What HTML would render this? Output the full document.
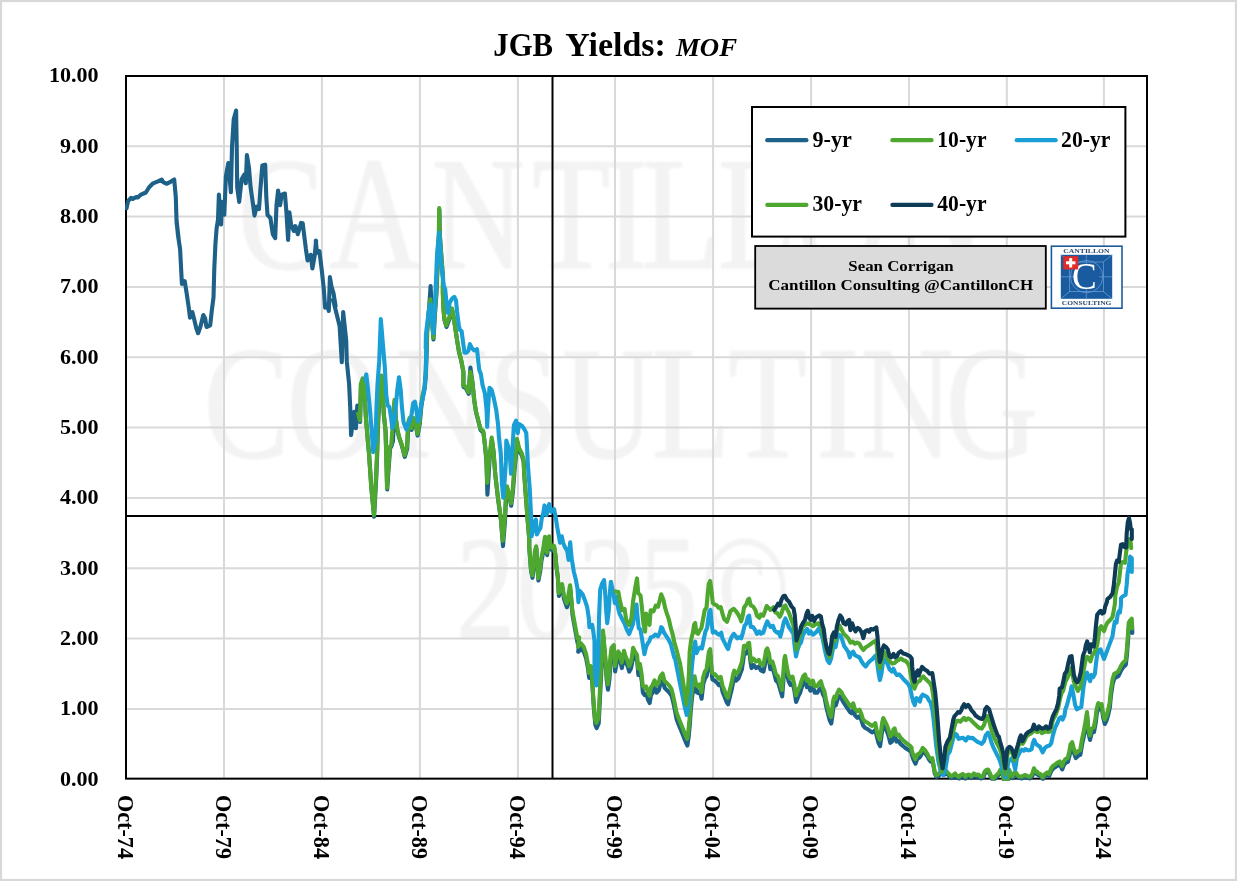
<!DOCTYPE html>
<html lang="en"><head><meta charset="utf-8"><title>JGB Yields: MOF</title>
<style>
html,body{margin:0;padding:0;background:#fff;}
body{width:1237px;height:881px;overflow:hidden;font-family:"Liberation Serif","DejaVu Serif",serif;}
svg{display:block;}
text{font-family:"Liberation Serif","DejaVu Serif",serif;}
</style></head><body>
<svg width="1237" height="881" viewBox="0 0 1237 881">
<rect x="0" y="0" width="1237" height="881" fill="#ffffff"/>
<rect x="1.05" y="1.05" width="1234.9" height="878.9" fill="none" stroke="#d8d8d8" stroke-width="2.1"/>
<text x="493.3" y="55.6" font-size="33.5" font-weight="bold" textLength="59.8" lengthAdjust="spacingAndGlyphs" fill="#000">JGB</text>
<text x="565.3" y="55.6" font-size="33.5" font-weight="bold" textLength="100.6" lengthAdjust="spacingAndGlyphs" fill="#000">Yields:</text>
<text x="676" y="55.6" font-size="25" font-weight="bold" font-style="italic" textLength="61" lengthAdjust="spacingAndGlyphs" fill="#000">MOF</text>
<defs><filter id="wb" x="-2%" y="-10%" width="104%" height="120%"><feGaussianBlur stdDeviation="1.0"/></filter></defs>
<g fill="#f3f3f3" stroke="#f0f0f0" stroke-width="0.8" filter="url(#wb)"><text transform="scale(0.8,1)" x="297.9 411.0 539.7 664.9 756.5 802.4 897.4 993.5 1116.0" y="268" font-size="160">CANTILLON</text><text transform="scale(0.8,1)" x="254.8 358.5 494.1 610.5 702.8 814.9 910.5 1020.2 1076.0 1182.2" y="457.5" font-size="160">CONSULTING</text><text transform="scale(0.8,1)" x="569.9 646.1 722.4 798.6 875.0" y="638" font-size="148">2025©</text></g>
<g stroke="#d9d9d9" stroke-width="2"><line x1="126.0" y1="708.9" x2="1147.0" y2="708.9"/><line x1="126.0" y1="638.6" x2="1147.0" y2="638.6"/><line x1="126.0" y1="568.2" x2="1147.0" y2="568.2"/><line x1="126.0" y1="497.9" x2="1147.0" y2="497.9"/><line x1="126.0" y1="427.6" x2="1147.0" y2="427.6"/><line x1="126.0" y1="357.3" x2="1147.0" y2="357.3"/><line x1="126.0" y1="287.0" x2="1147.0" y2="287.0"/><line x1="126.0" y1="216.6" x2="1147.0" y2="216.6"/><line x1="126.0" y1="146.3" x2="1147.0" y2="146.3"/><line x1="224.0" y1="76.0" x2="224.0" y2="778.65"/><line x1="321.9" y1="76.0" x2="321.9" y2="778.65"/><line x1="419.9" y1="76.0" x2="419.9" y2="778.65"/><line x1="517.9" y1="76.0" x2="517.9" y2="778.65"/><line x1="615.0" y1="76.0" x2="615.0" y2="778.65"/><line x1="713.1" y1="76.0" x2="713.1" y2="778.65"/><line x1="811.1" y1="76.0" x2="811.1" y2="778.65"/><line x1="909.0" y1="76.0" x2="909.0" y2="778.65"/><line x1="1006.8" y1="76.0" x2="1006.8" y2="778.65"/><line x1="1103.9" y1="76.0" x2="1103.9" y2="778.65"/></g>
<text x="98.6" y="785.7" font-size="21" font-weight="bold" text-anchor="end" textLength="38.6" lengthAdjust="spacingAndGlyphs" fill="#000">0.00</text>
<text x="98.6" y="715.3" font-size="21" font-weight="bold" text-anchor="end" textLength="38.6" lengthAdjust="spacingAndGlyphs" fill="#000">1.00</text>
<text x="98.6" y="645.0" font-size="21" font-weight="bold" text-anchor="end" textLength="38.6" lengthAdjust="spacingAndGlyphs" fill="#000">2.00</text>
<text x="98.6" y="574.6" font-size="21" font-weight="bold" text-anchor="end" textLength="38.6" lengthAdjust="spacingAndGlyphs" fill="#000">3.00</text>
<text x="98.6" y="504.3" font-size="21" font-weight="bold" text-anchor="end" textLength="38.6" lengthAdjust="spacingAndGlyphs" fill="#000">4.00</text>
<text x="98.6" y="433.9" font-size="21" font-weight="bold" text-anchor="end" textLength="38.6" lengthAdjust="spacingAndGlyphs" fill="#000">5.00</text>
<text x="98.6" y="363.5" font-size="21" font-weight="bold" text-anchor="end" textLength="38.6" lengthAdjust="spacingAndGlyphs" fill="#000">6.00</text>
<text x="98.6" y="293.2" font-size="21" font-weight="bold" text-anchor="end" textLength="38.6" lengthAdjust="spacingAndGlyphs" fill="#000">7.00</text>
<text x="98.6" y="222.8" font-size="21" font-weight="bold" text-anchor="end" textLength="38.6" lengthAdjust="spacingAndGlyphs" fill="#000">8.00</text>
<text x="98.6" y="152.5" font-size="21" font-weight="bold" text-anchor="end" textLength="38.6" lengthAdjust="spacingAndGlyphs" fill="#000">9.00</text>
<text x="98.6" y="82.1" font-size="21" font-weight="bold" text-anchor="end" textLength="49.6" lengthAdjust="spacingAndGlyphs" fill="#000">10.00</text>
<text transform="translate(117.8,795) rotate(90)" font-size="23" font-weight="bold" textLength="64" lengthAdjust="spacingAndGlyphs" fill="#000">Oct-74</text>
<text transform="translate(215.7,795) rotate(90)" font-size="23" font-weight="bold" textLength="64" lengthAdjust="spacingAndGlyphs" fill="#000">Oct-79</text>
<text transform="translate(313.6,795) rotate(90)" font-size="23" font-weight="bold" textLength="64" lengthAdjust="spacingAndGlyphs" fill="#000">Oct-84</text>
<text transform="translate(411.6,795) rotate(90)" font-size="23" font-weight="bold" textLength="64" lengthAdjust="spacingAndGlyphs" fill="#000">Oct-89</text>
<text transform="translate(509.6,795) rotate(90)" font-size="23" font-weight="bold" textLength="64" lengthAdjust="spacingAndGlyphs" fill="#000">Oct-94</text>
<text transform="translate(606.7,795) rotate(90)" font-size="23" font-weight="bold" textLength="64" lengthAdjust="spacingAndGlyphs" fill="#000">Oct-99</text>
<text transform="translate(704.8,795) rotate(90)" font-size="23" font-weight="bold" textLength="64" lengthAdjust="spacingAndGlyphs" fill="#000">Oct-04</text>
<text transform="translate(802.8,795) rotate(90)" font-size="23" font-weight="bold" textLength="64" lengthAdjust="spacingAndGlyphs" fill="#000">Oct-09</text>
<text transform="translate(900.7,795) rotate(90)" font-size="23" font-weight="bold" textLength="64" lengthAdjust="spacingAndGlyphs" fill="#000">Oct-14</text>
<text transform="translate(998.5,795) rotate(90)" font-size="23" font-weight="bold" textLength="64" lengthAdjust="spacingAndGlyphs" fill="#000">Oct-19</text>
<text transform="translate(1095.6,795) rotate(90)" font-size="23" font-weight="bold" textLength="64" lengthAdjust="spacingAndGlyphs" fill="#000">Oct-24</text>
<line x1="552.5" y1="76.0" x2="552.5" y2="778.65" stroke="#000" stroke-width="2"/>
<line x1="126.0" y1="516" x2="1147.0" y2="516" stroke="#000" stroke-width="2"/>
<rect x="126.0" y="76.0" width="1021.0" height="702.65" fill="none" stroke="#000" stroke-width="2"/>
<clipPath id="pc"><rect x="125.0" y="76.0" width="1023.0" height="704.65"/></clipPath>
<g id="series" clip-path="url(#pc)">
<polyline points="126.5,208.3 128.1,201.1 131.0,197.8 132.9,198.9 136.2,197.0 137.8,197.5 141.0,194.6 145.9,192.5 149.1,187.3 153.1,183.3 158.0,181.3 161.7,179.5 163.3,182.1 166.9,183.8 170.9,181.6 174.2,179.5 175.8,197.0 176.6,222.9 179.0,242.0 176.6,220.8 177.9,234.6 180.1,249.1 181.1,268.5 181.9,283.9 184.7,281.1 186.6,292.8 188.7,307.3 190.0,317.8 192.4,312.2 194.4,320.2 196.3,328.3 198.1,333.2 200.4,326.7 203.3,315.1 205.2,318.6 206.5,327.0 210.2,325.4 211.8,310.5 213.5,297.6 214.3,268.5 215.4,244.3 216.5,229.7 216.7,227.7 218.0,219.6 218.9,194.6 221.1,224.5 221.9,201.9 224.3,214.8 225.9,176.0 228.3,163.1 230.9,192.2 232.0,146.9 233.7,119.4 236.1,110.5 236.7,145.3 237.2,187.3 239.2,201.9 241.6,179.2 244.2,174.7 245.8,183.3 246.9,155.0 249.0,167.9 250.6,187.3 252.9,203.5 254.5,215.6 256.6,206.7 259.0,209.1 260.3,190.5 262.3,165.5 265.2,164.7 266.3,197.0 267.5,214.8 270.4,218.0 272.8,234.2 275.2,238.2 276.5,205.1 278.1,190.5 280.1,205.1 281.7,194.6 284.9,193.5 286.5,213.2 288.1,239.9 289.4,212.4 291.1,224.5 293.8,231.0 295.4,226.1 297.8,234.2 301.1,222.9 302.7,223.2 304.3,236.2 305.9,249.1 307.6,260.4 310.8,254.8 312.4,268.5 314.8,254.8 316.1,241.0 315.8,240.6 317.0,252.8 319.4,251.1 321.8,270.5 323.9,289.9 325.1,307.7 327.5,304.5 328.8,311.0 329.9,277.0 331.5,286.7 333.5,293.2 335.6,306.1 333.1,300.0 339.6,325.9 341.8,362.2 343.2,312.1 346.2,340.4 346.8,361.4 349.1,384.1 350.2,406.8 351.1,435.1 354.2,411.9 355.9,428.3 357.3,405.6 358.4,415.2 360.1,422.0 361.0,385.7 362.9,380.0 364.4,389.1 366.1,419.7 368.0,442.4 369.1,454.3 371.4,488.4 374.1,516.7 376.3,477.0 377.2,454.3 377.9,428.8 379.4,397.0 380.5,383.4 381.7,377.1 382.8,391.3 383.9,415.2 385.6,431.1 386.3,454.3 387.2,489.5 388.4,471.3 390.1,448.6 391.5,445.8 393.0,440.9 394.7,401.5 396.0,419.7 397.5,431.1 399.2,437.9 402.1,446.4 404.7,456.8 407.2,448.6 408.3,424.2 409.7,419.7 411.5,429.9 414.0,419.7 415.7,424.2 417.6,435.6 419.7,424.2 421.4,406.1 422.8,397.0 424.8,387.9 425.9,374.3 426.7,351.6 426.7,351.6 427.2,332.7 428.9,310.9 430.6,286.1 432.0,316.8 433.5,339.5 434.9,315.7 436.5,293.0 438.2,253.4 439.0,234.1 439.4,209.7 439.8,234.1 442.0,264.7 443.1,278.3 442.9,293.0 443.6,310.0 444.5,320.2 446.5,327.0 449.4,319.1 452.2,310.0 453.9,319.1 455.6,330.4 457.3,341.8 459.0,352.0 461.3,361.1 463.5,372.4 463.5,387.0 465.8,388.2 468.7,393.8 470.4,367.6 472.6,383.6 474.3,400.7 476.0,412.0 478.3,421.1 480.6,430.2 483.4,432.6 485.1,446.3 486.5,462.2 487.4,494.7 489.7,457.8 491.9,439.7 493.6,452.3 495.3,474.9 498.2,500.0 501.0,520.5 503.0,546.1 505.0,520.5 506.1,497.8 507.2,488.7 509.5,497.8 511.2,505.7 512.9,492.1 514.6,469.4 516.3,452.4 517.1,441.2 519.2,450.3 522.0,455.9 523.7,461.6 524.3,475.1 526.0,497.8 527.7,520.5 529.4,540.9 529.3,547.8 531.1,571.4 532.5,577.8 533.8,566.0 535.2,553.3 536.4,548.7 537.3,566.0 538.4,580.5 540.2,571.4 541.5,560.5 543.4,551.4 545.2,539.2 547.2,555.1 549.3,538.7 551.3,549.6 552.7,550.5 554.3,548.3 555.6,556.9 556.5,567.8 557.9,578.0 558.9,595.9 560.6,591.6 562.3,587.3 564.0,598.9 566.9,607.2 568.6,599.5 570.3,589.5 571.4,602.2 572.5,614.8 574.3,625.2 576.0,634.5 577.7,643.6 579.4,642.4 578.2,651.8 581.1,648.5 583.9,651.9 586.2,658.7 587.9,667.8 589.2,678.0 591.3,671.3 592.4,684.9 593.8,707.6 595.3,724.6 596.6,728.1 598.7,723.5 599.8,702.0 600.9,679.3 602.1,656.6 603.2,635.8 605.5,662.3 606.6,679.3 608.0,689.6 609.4,679.4 610.6,662.3 611.7,653.3 614.0,650.5 615.1,671.5 616.8,662.4 618.5,656.7 620.2,660.2 621.9,668.1 624.2,656.2 625.9,662.5 627.6,665.9 629.3,671.6 631.0,668.3 632.1,662.8 633.3,653.9 635.0,657.5 637.2,661.2 638.4,675.0 640.1,670.7 641.8,681.1 642.9,692.6 644.6,695.1 646.3,694.0 648.0,699.7 649.7,703.0 650.9,695.1 652.6,692.8 654.8,687.6 656.5,692.7 658.8,690.4 660.5,683.5 662.8,680.7 664.7,688.0 667.0,690.2 669.3,692.5 671.6,695.8 673.3,702.6 675.0,710.5 676.7,719.6 678.9,725.2 681.2,730.8 683.5,736.5 685.7,742.1 687.4,745.5 688.6,737.5 689.7,726.1 690.8,710.2 692.0,697.7 693.7,686.3 694.8,682.9 696.5,692.0 698.2,693.1 699.9,690.8 701.6,698.7 703.3,684.0 705.0,678.3 706.7,676.0 707.9,666.9 709.2,657.9 710.4,655.6 711.3,669.2 712.4,679.4 714.7,680.6 717.0,682.8 718.7,685.1 720.9,683.4 722.6,691.9 724.9,697.6 726.6,702.1 728.1,704.4 730.0,696.4 731.7,689.6 733.4,680.6 734.5,677.1 736.2,680.6 738.5,678.3 740.2,673.7 741.9,669.2 743.1,661.3 744.2,652.2 746.5,653.3 748.2,649.9 749.3,649.3 750.4,661.3 751.6,668.1 753.8,665.2 756.1,668.1 759.0,666.4 760.7,670.3 763.5,671.5 765.2,663.5 766.3,656.7 767.5,655.0 769.2,660.1 770.3,669.2 772.6,668.1 774.3,673.7 776.0,680.6 778.2,682.8 780.5,690.8 782.2,696.4 783.4,680.6 784.5,665.8 785.3,662.4 787.0,673.5 788.7,681.5 790.4,684.9 792.7,683.2 794.4,690.6 796.1,701.9 798.4,696.2 800.1,692.8 801.8,687.1 803.5,682.6 805.2,680.9 806.9,687.1 808.6,686.0 810.3,690.6 813.1,687.1 814.8,692.8 817.1,692.8 819.4,689.4 821.1,687.7 822.8,694.0 824.5,697.4 826.2,706.4 827.9,713.3 829.6,720.1 831.3,723.5 832.4,715.5 833.5,706.4 834.7,703.0 835.8,705.3 837.5,699.6 839.2,696.2 841.5,698.5 843.2,701.9 845.5,705.3 847.7,708.7 850.0,712.1 851.7,713.3 853.4,709.8 855.1,715.5 857.4,717.8 859.7,716.1 861.4,720.1 863.1,725.7 865.3,728.0 867.6,729.1 869.9,730.8 872.1,732.5 873.8,731.4 875.5,729.7 876.7,736.0 878.4,742.8 880.1,746.2 881.2,738.2 882.4,729.1 883.5,724.6 885.2,728.0 886.9,731.4 888.6,736.0 890.3,742.8 892.0,741.6 893.7,736.0 894.8,734.8 896.5,741.6 898.8,741.1 900.5,743.9 902.8,745.8 905.1,747.8 907.3,749.2 909.6,750.6 911.9,752.5 911.6,754.0 913.3,759.4 915.5,763.7 917.2,758.9 919.5,757.5 921.2,755.0 922.9,751.3 925.2,753.3 927.4,756.4 929.1,759.6 930.8,761.6 932.5,760.3 933.7,766.9 934.8,773.6 936.5,776.9 938.8,775.8 940.5,773.5 942.8,774.1 944.5,774.7 946.7,773.0 949.0,775.8 951.3,778.1 953.5,776.9 955.3,775.2 957.0,777.5 959.2,778.6 961.5,776.4 963.2,775.8 965.5,778.6 967.2,776.9 969.4,776.4 971.7,778.1 974.0,775.2 976.2,776.9 978.5,776.4 980.8,778.6 983.1,778.1 984.8,773.5 986.5,771.8 988.2,771.3 989.9,774.7 991.6,778.6 993.3,780.3 995.5,778.1 997.2,776.4 999.0,774.7 1000.7,771.3 1001.8,770.7 1002.9,775.8 1004.1,782.0 1008.0,782.0 1009.2,771.3 1010.9,775.8 1012.6,778.1 1014.3,774.7 1016.0,774.1 1017.7,776.9 1019.4,778.1 1021.7,778.6 1023.4,777.5 1025.6,776.9 1027.9,778.1 1030.2,778.6 1032.4,775.8 1034.1,770.1 1035.8,773.0 1037.5,773.5 1036.1,773.5 1038.4,775.2 1040.6,775.8 1042.9,779.2 1045.2,775.8 1047.4,774.3 1049.1,776.2 1051.4,770.7 1053.1,768.6 1055.4,767.1 1057.7,765.6 1059.9,764.6 1062.2,769.4 1063.9,765.0 1065.6,762.9 1067.9,761.9 1069.6,755.3 1070.7,748.6 1072.4,746.5 1074.1,753.4 1075.8,758.1 1078.1,755.8 1080.4,754.7 1082.1,744.4 1083.8,736.5 1085.5,727.4 1087.2,716.6 1088.3,732.0 1090.0,739.9 1091.7,733.1 1094.0,732.0 1095.7,722.9 1096.8,713.8 1098.5,707.6 1100.2,709.3 1101.9,708.7 1103.1,717.2 1104.8,724.0 1106.5,720.6 1108.2,714.9 1109.9,707.0 1111.0,695.3 1112.7,684.0 1114.4,678.3 1116.7,677.1 1118.4,676.0 1120.1,672.6 1121.8,669.2 1123.5,666.9 1125.8,664.7 1126.9,655.6 1128.0,640.8 1128.9,627.2 1130.3,624.9 1132.0,623.2 1132.3,632.9" fill="none" stroke="#1d6088" stroke-width="4.1" stroke-linejoin="round" stroke-linecap="round"/>
<polyline points="358.2,413.6 359.9,420.4 360.8,384.1 362.7,378.4 364.2,387.5 365.9,418.1 367.8,440.8 368.9,452.7 371.2,486.8 373.9,515.1 376.1,475.4 377.0,452.7 377.7,427.2 379.2,395.4 380.3,381.8 381.5,375.5 382.6,389.7 383.7,413.6 385.4,429.5 386.1,452.7 387.0,487.9 388.2,469.7 389.9,447.0 391.3,444.2 392.8,423.8 394.5,399.9 395.8,418.1 397.3,429.5 399.0,436.3 401.9,444.8 404.5,455.2 407.0,447.0 408.1,422.6 409.5,418.1 411.3,428.3 413.8,418.1 415.5,422.6 417.4,434.0 419.5,422.6 421.2,404.5 422.6,395.4 424.6,386.3 425.7,372.7 426.5,350.0 426.5,350.0 427.0,331.1 428.7,311.8 430.4,299.3 431.8,319.7 433.3,337.9 434.7,314.1 436.3,291.4 438.0,251.8 438.8,232.5 439.2,208.1 439.6,232.5 441.8,263.1 442.9,276.7 442.7,291.4 443.4,308.4 444.3,318.6 446.3,325.4 449.2,317.5 452.0,308.4 453.7,317.5 455.4,328.8 457.1,340.2 458.8,350.4 461.1,359.5 463.3,370.8 463.3,385.4 465.6,386.6 468.5,392.2 470.2,371.8 472.4,382.0 474.1,399.1 475.8,410.4 478.1,419.5 480.4,428.6 483.2,430.8 484.9,444.5 486.3,458.1 487.2,482.9 489.5,455.8 491.7,437.6 493.4,450.1 495.1,472.7 498.0,497.7 500.8,518.1 502.8,540.8 504.8,518.1 505.9,495.4 507.0,486.3 509.3,495.4 511.0,503.3 512.7,489.7 514.4,467.0 516.1,450.0 516.9,438.8 519.0,447.9 521.8,453.5 523.5,459.2 524.1,472.7 525.8,495.4 527.5,518.1 529.2,538.5 529.1,545.4 530.9,569.0 532.3,575.4 533.6,563.6 535.0,550.9 536.2,546.3 537.1,563.6 538.2,578.1 540.0,569.0 541.3,558.1 543.2,549.0 545.0,536.8 547.0,552.7 549.1,536.3 551.1,547.2 552.5,548.1 554.1,545.9 555.4,554.5 556.3,565.4 557.7,575.4 558.7,593.1 560.4,588.6 562.1,584.1 563.8,595.4 566.7,603.3 568.4,595.4 570.1,585.2 571.2,597.7 572.3,610.2 574.1,620.4 575.8,629.5 577.5,638.5 579.2,637.4 578.0,646.8 580.9,643.4 583.7,646.8 586.0,653.6 587.7,662.7 589.0,672.9 591.1,666.1 592.2,679.7 593.6,702.4 595.1,719.5 596.4,722.9 598.5,718.3 599.6,696.8 600.7,674.1 601.9,651.4 603.0,630.6 605.3,657.0 606.4,674.1 607.8,684.3 609.2,674.1 610.4,657.0 611.5,647.9 613.8,645.1 614.9,666.1 616.6,657.0 618.3,651.4 620.0,654.8 621.7,662.7 624.0,650.8 625.7,657.0 627.4,660.4 629.1,666.1 630.8,662.7 631.9,657.0 633.1,647.9 634.8,651.4 637.0,654.8 638.2,668.4 639.9,663.8 641.6,674.1 642.7,685.4 644.4,687.7 646.1,686.5 647.8,692.2 649.5,695.6 650.7,687.7 652.4,685.4 654.6,680.3 656.3,685.4 658.6,683.1 660.3,676.3 662.6,673.5 664.5,680.9 666.8,683.1 669.1,685.4 671.4,688.8 673.1,695.6 674.8,703.6 676.5,712.6 678.7,718.3 681.0,724.0 683.3,729.7 685.5,735.3 687.2,738.8 688.4,730.8 689.5,719.5 690.6,703.6 691.8,691.1 693.5,679.7 694.6,676.3 696.3,685.4 698.0,686.5 699.7,684.3 701.4,692.2 703.1,677.5 704.8,671.8 706.5,669.5 707.7,660.4 709.0,651.4 710.2,649.1 711.1,662.7 712.2,672.9 714.5,674.1 716.8,676.3 718.5,678.6 720.7,676.9 722.4,685.4 724.7,691.1 726.4,695.6 727.9,697.9 729.8,689.9 731.5,683.1 733.2,674.1 734.3,670.6 736.0,674.1 738.3,671.8 740.0,667.2 741.7,662.7 742.9,654.8 744.0,645.7 746.3,646.8 748.0,643.4 749.1,642.8 750.2,654.8 751.4,661.6 753.6,658.7 755.9,661.6 758.8,659.9 760.5,663.8 763.3,665.0 765.0,657.0 766.1,650.2 767.3,648.5 769.0,653.6 770.1,662.7 772.4,661.6 774.1,667.2 775.8,674.1 778.0,676.3 780.3,684.3 782.0,689.9 783.2,674.1 784.3,659.3 785.1,655.9 786.8,667.0 788.5,675.0 790.2,678.4 792.5,676.7 794.2,684.1 795.9,695.4 798.2,689.7 799.9,686.3 801.6,680.6 803.3,676.1 805.0,674.4 806.7,680.6 808.4,679.5 810.1,684.1 812.9,680.6 814.6,686.3 816.9,686.3 819.2,682.9 820.9,681.2 822.6,687.5 824.3,690.9 826.0,699.9 827.7,706.8 829.4,713.6 831.1,717.0 832.2,709.0 833.3,699.9 834.5,696.5 835.6,698.8 837.3,693.1 839.0,689.7 841.3,692.0 843.0,695.4 845.3,698.8 847.5,702.2 849.8,705.6 851.5,706.8 853.2,703.3 854.9,709.0 857.2,711.3 859.5,709.6 861.2,713.6 862.9,719.2 865.1,721.5 867.4,722.6 869.7,724.3 871.9,726.0 873.6,724.9 875.3,723.2 876.5,729.5 878.2,736.3 879.9,739.7 881.0,731.7 882.2,722.6 883.3,718.1 885.0,721.5 886.7,724.9 888.4,729.5 890.1,736.3 891.8,735.1 893.5,729.5 894.6,728.3 896.3,735.1 898.6,734.6 900.3,737.4 902.6,739.7 904.9,741.9 907.1,743.6 909.4,745.3 911.7,747.6 911.4,749.0 913.1,754.7 915.3,759.2 917.0,754.7 919.3,753.6 921.0,751.3 922.7,747.9 925.0,750.2 927.2,753.6 928.9,757.0 930.6,759.2 932.3,758.1 933.5,764.9 934.6,771.7 936.3,775.1 938.6,774.0 940.3,771.7 942.6,772.3 944.3,772.9 946.5,771.2 948.8,774.0 951.1,776.3 953.3,775.1 955.1,773.4 956.8,775.7 959.0,776.8 961.3,774.6 963.0,774.0 965.3,776.8 967.0,775.1 969.2,774.6 971.5,776.3 973.8,773.4 976.0,775.1 978.3,774.6 980.6,776.8 982.9,776.3 984.6,771.7 986.3,770.0 988.0,769.5 989.7,772.9 991.4,776.8 993.1,778.5 995.3,776.3 997.0,774.6 998.8,772.9 1000.5,769.5 1001.6,768.9 1002.7,774.0 1003.9,780.2 1007.8,780.2 1009.0,769.5 1010.7,774.0 1012.4,776.3 1014.1,772.9 1015.8,772.3 1017.5,775.1 1019.2,776.3 1021.5,776.8 1023.2,775.7 1025.4,775.1 1027.7,776.3 1030.0,776.8 1032.2,774.0 1033.9,768.3 1035.6,771.2 1037.3,771.7 1035.9,771.7 1038.2,773.4 1040.4,774.0 1042.7,777.4 1045.0,774.0 1047.2,772.3 1048.9,774.0 1051.2,768.3 1052.9,766.0 1055.2,764.3 1057.5,762.6 1059.7,761.5 1062.0,766.0 1063.7,761.5 1065.4,759.2 1067.7,758.1 1069.4,751.3 1070.5,744.5 1072.2,742.2 1073.9,749.0 1075.6,753.6 1077.9,751.3 1080.2,750.2 1081.9,739.9 1083.6,732.0 1085.3,722.9 1087.0,712.1 1088.1,727.5 1089.8,735.4 1091.5,728.6 1093.8,727.5 1095.5,718.4 1096.6,709.3 1098.3,703.1 1100.0,704.8 1101.7,704.2 1102.9,712.7 1104.6,719.5 1106.3,716.1 1108.0,710.4 1109.7,702.5 1110.8,690.8 1112.5,679.5 1114.2,673.8 1116.5,672.6 1118.2,671.5 1119.9,668.1 1121.6,664.7 1123.3,662.4 1125.6,660.2 1126.7,651.1 1127.8,636.3 1128.7,622.7 1130.1,620.4 1131.8,618.7 1132.1,628.4" fill="none" stroke="#4ea72e" stroke-width="4.1" stroke-linejoin="round" stroke-linecap="round"/>
<polyline points="365.2,379.5 366.3,374.4 367.8,387.5 369.7,406.8 371.6,429.5 373.1,452.1 375.4,440.8 376.5,406.8 377.5,384.1 379.2,361.4 380.8,319.1 384.8,367.0 386.3,395.4 387.7,405.6 389.4,406.8 391.1,418.1 392.4,428.3 394.5,420.4 395.6,409.0 397.3,389.7 399.0,377.2 400.7,389.7 401.9,406.8 403.6,422.6 406.4,429.5 408.1,424.9 410.4,419.2 411.7,413.6 413.2,403.3 414.9,401.6 416.3,409.0 417.8,421.5 419.5,417.0 421.2,404.5 422.9,397.7 424.6,387.5 425.7,372.7 426.3,350.0 425.7,348.1 425.9,334.5 427.3,323.1 428.7,311.8 430.4,304.4 431.8,317.5 433.3,333.3 434.4,314.1 435.5,291.4 437.2,251.8 439.2,232.5 441.0,263.1 443.8,285.8 445.2,289.1 446.5,302.7 448.0,312.9 449.7,302.7 452.0,298.7 454.3,297.0 456.0,300.4 457.1,311.8 458.8,325.4 459.9,329.9 461.6,331.1 462.8,340.2 464.5,352.6 466.8,352.6 468.5,350.4 469.9,344.1 471.9,348.1 474.1,350.4 477.0,349.2 478.1,359.5 479.2,369.7 480.9,374.2 482.6,385.4 484.9,393.4 486.6,410.4 487.2,426.9 488.3,404.7 489.5,387.7 491.7,390.0 494.0,399.1 496.3,410.4 498.0,424.0 499.1,438.8 500.8,453.5 501.9,484.1 503.3,497.7 504.8,478.4 505.9,461.4 506.3,440.5 508.2,446.7 509.9,455.8 511.0,473.8 512.7,444.5 513.9,425.2 516.1,420.6 517.8,433.1 519.0,424.0 522.4,426.3 524.6,429.7 526.3,433.1 526.9,444.5 528.0,467.0 529.8,489.7 530.9,512.4 532.0,529.5 531.6,536.3 533.6,526.3 535.9,519.5 536.8,534.5 538.6,530.9 540.4,528.2 541.8,518.2 543.2,513.6 544.5,505.4 546.6,515.0 549.1,504.1 551.3,511.8 554.1,509.1 555.9,518.2 557.2,527.2 558.6,534.5 560.0,542.7 561.8,536.3 563.1,542.7 565.0,547.2 567.2,550.9 568.6,559.9 569.5,549.0 570.2,542.2 571.6,558.1 573.8,571.7 575.8,579.5 577.5,588.6 578.4,602.2 579.7,590.9 582.6,594.3 584.8,599.9 587.1,606.8 588.8,618.1 589.4,627.2 592.2,624.9 593.3,631.7 594.5,640.8 594.5,662.7 595.6,679.7 596.4,685.4 597.3,674.1 598.5,651.4 599.0,618.1 600.2,589.7 601.9,584.1 604.1,580.1 605.3,595.4 606.4,613.6 607.2,623.2 608.7,611.3 609.8,593.1 610.9,581.8 612.6,589.7 613.8,595.4 614.9,603.3 616.3,596.5 618.3,609.0 619.5,613.6 621.7,618.1 624.6,623.8 626.8,629.5 629.1,634.0 631.4,628.3 633.1,623.8 634.8,609.0 636.5,604.5 637.6,618.1 638.8,628.3 640.5,629.5 641.6,636.3 642.7,643.1 644.4,654.2 646.1,646.8 647.8,643.4 649.5,640.8 650.7,637.4 653.5,636.3 655.2,634.6 658.0,636.3 659.8,632.9 661.2,627.2 662.3,628.1 664.0,632.6 666.2,636.0 668.5,639.5 670.8,644.0 672.5,650.8 674.2,657.6 674.8,657.0 677.0,668.4 679.9,683.1 682.7,696.8 685.0,708.1 686.7,714.9 688.9,703.6 690.6,683.1 692.3,662.7 694.1,646.8 695.2,641.7 696.5,653.1 698.6,648.5 700.3,647.4 702.0,648.5 703.7,639.5 705.4,631.5 707.1,628.1 708.2,619.0 709.4,611.1 710.5,609.9 711.6,623.6 712.8,632.6 715.1,631.5 717.3,633.8 719.0,634.9 721.3,632.6 722.4,638.3 724.7,642.9 727.0,647.4 728.1,649.1 729.8,641.7 731.5,637.2 733.8,633.8 735.5,636.0 737.2,638.3 739.5,637.2 741.2,638.3 742.9,632.6 744.6,625.8 746.3,623.6 748.0,616.8 749.1,615.6 750.8,627.0 753.1,627.0 755.3,630.4 757.0,633.8 759.3,631.5 761.0,633.8 763.3,632.6 765.0,627.0 767.3,621.3 769.0,624.7 770.7,627.0 772.9,625.8 774.6,630.4 776.9,632.6 778.6,632.1 780.3,636.6 782.0,630.4 783.7,622.4 785.4,618.5 787.1,622.4 788.8,627.0 791.1,630.4 793.4,633.8 794.5,645.1 796.0,656.5 797.6,649.5 799.3,644.9 801.0,642.6 802.7,635.8 805.0,631.3 807.2,629.0 808.9,633.6 810.6,631.3 812.9,634.7 814.6,633.6 816.9,631.3 819.2,627.9 820.9,633.6 822.6,638.1 824.3,647.2 826.0,655.1 827.7,660.8 829.4,663.1 831.1,658.5 832.8,649.5 834.5,642.6 835.6,647.2 837.3,638.1 839.0,634.7 840.7,635.8 842.4,640.4 844.1,646.0 845.8,648.3 848.1,651.7 849.8,657.4 851.5,652.9 853.2,651.7 854.9,655.1 857.2,656.3 859.5,657.4 861.2,660.8 863.4,664.2 865.7,666.5 868.0,663.1 870.2,660.8 872.5,659.1 874.8,656.3 876.3,655.1 877.4,664.2 878.5,672.7 879.9,680.1 881.6,672.7 882.7,663.6 884.4,659.6 886.1,661.4 887.8,664.8 889.5,669.3 891.8,671.6 893.5,668.7 895.2,672.7 896.9,675.0 899.2,674.4 901.5,676.7 903.7,679.5 906.0,681.8 908.3,684.1 910.0,687.5 911.7,695.4 913.4,702.2 914.8,705.1 916.5,698.1 918.2,699.2 919.9,701.5 921.0,697.0 922.7,694.7 925.0,695.8 927.2,697.0 928.9,700.4 930.6,702.6 932.3,709.5 933.5,718.5 934.6,729.7 936.3,746.8 938.6,762.6 940.9,771.7 943.1,775.1 945.4,769.5 947.7,754.7 949.9,751.3 951.6,744.5 953.3,737.7 955.1,733.7 956.8,734.8 958.5,738.8 960.7,738.2 963.0,737.7 965.8,740.5 968.1,737.1 970.4,738.2 972.6,737.7 974.9,739.9 977.2,741.6 979.5,742.8 981.7,743.9 984.0,741.1 985.7,735.4 988.0,732.6 989.7,736.5 991.4,742.2 993.1,746.8 995.3,751.3 997.0,754.7 998.8,758.1 1000.5,762.6 1002.2,768.3 1003.9,774.0 1005.6,777.4 1007.3,769.5 1008.4,761.5 1010.1,760.4 1011.8,758.1 1013.5,762.6 1015.2,769.5 1016.9,758.1 1018.6,754.7 1020.3,751.3 1022.0,749.6 1023.7,750.7 1025.4,749.0 1027.7,750.2 1030.0,750.2 1031.7,749.0 1032.8,743.3 1034.2,739.9 1035.6,743.3 1037.3,745.1 1040.0,746.8 1042.7,752.4 1045.0,747.9 1047.2,746.2 1049.5,745.6 1051.2,743.3 1052.9,735.4 1055.2,727.5 1057.5,722.9 1059.2,718.4 1060.9,717.2 1062.6,719.5 1064.3,716.1 1065.4,709.3 1067.1,704.8 1068.8,697.9 1070.5,692.3 1071.6,686.3 1073.3,694.2 1075.1,704.8 1076.8,709.3 1079.0,708.2 1081.3,707.0 1082.4,696.8 1083.6,686.3 1085.3,677.2 1087.0,672.6 1088.7,678.3 1090.1,681.2 1091.5,674.9 1093.2,677.2 1094.9,673.8 1096.0,663.6 1097.2,654.5 1098.9,649.9 1100.6,649.4 1102.3,654.5 1104.0,659.0 1105.7,654.5 1107.4,649.9 1109.1,645.4 1110.8,640.9 1112.5,636.3 1113.6,628.4 1114.8,621.6 1116.5,622.7 1117.6,614.8 1118.8,611.4 1119.9,612.5 1121.0,604.5 1121.0,598.1 1122.7,596.4 1125.6,594.7 1126.7,584.5 1127.6,573.1 1128.4,568.6 1129.5,561.8 1130.1,556.6 1131.8,558.3 1131.8,572.0" fill="none" stroke="#199fd6" stroke-width="4.1" stroke-linejoin="round" stroke-linecap="round"/>
<polyline points="615.5,591.4 618.3,592.0 620.0,601.1 622.3,610.2 624.6,609.0 626.3,620.4 629.1,624.9 631.4,618.1 633.1,601.1 635.3,587.5 637.0,578.4 638.2,593.1 640.5,595.4 641.6,604.5 643.3,622.6 645.0,631.7 646.1,613.6 647.8,620.4 649.5,624.9 650.7,610.2 653.5,611.3 655.8,605.6 658.0,606.8 659.8,599.9 661.2,594.3 663.4,599.7 665.1,607.7 666.8,613.3 669.1,620.2 670.8,628.1 672.5,633.8 674.2,641.7 676.5,649.7 678.2,656.5 679.9,662.7 682.7,679.7 685.0,694.5 686.3,704.7 687.8,691.1 688.9,674.1 689.7,651.4 691.2,639.5 692.9,632.6 694.1,624.7 695.2,623.0 696.3,632.6 698.0,633.8 699.7,630.4 701.4,628.1 703.1,619.0 704.8,609.9 706.5,607.7 707.7,594.1 708.8,583.8 710.2,581.0 711.6,591.8 712.8,603.1 714.5,604.3 716.8,605.4 718.5,607.7 720.7,607.1 722.4,613.3 724.1,619.0 727.0,621.9 728.7,616.8 730.4,611.1 733.8,608.8 736.0,611.1 738.3,614.5 740.0,617.9 741.2,621.3 742.9,614.5 744.0,607.7 746.3,604.3 748.0,599.7 749.1,598.6 750.8,605.4 753.1,606.5 755.3,609.9 757.0,615.6 759.3,617.9 761.0,614.5 763.3,615.6 765.0,611.1 766.7,606.0 768.4,607.7 770.7,609.9 773.5,607.1 775.2,612.2 777.5,613.3 779.8,616.8 781.5,613.3 783.7,606.5 785.4,605.4 786.8,608.6 789.1,613.1 791.4,619.9 793.1,624.5 794.8,631.3 795.7,638.1 796.5,649.5 798.2,640.4 800.4,633.6 802.7,626.8 805.5,624.5 807.8,623.3 810.6,624.5 812.9,626.2 815.2,624.5 818.6,623.3 820.9,624.5 822.6,631.3 824.8,642.6 827.1,651.7 829.4,657.4 831.1,651.7 833.3,638.1 835.1,640.4 836.8,631.3 839.6,625.6 841.9,630.2 843.6,633.6 845.8,635.8 848.1,638.1 850.4,642.6 852.6,641.5 854.9,643.8 857.2,642.6 859.5,643.8 861.2,647.2 863.4,650.0 865.7,647.2 868.0,646.0 870.2,644.3 872.5,642.6 875.3,640.9 876.5,643.8 877.6,655.1 878.8,664.2 879.9,668.2 881.6,660.2 883.9,651.7 885.6,654.0 887.8,658.5 890.1,661.9 892.4,663.6 894.6,663.1 896.9,660.8 899.2,659.7 900.9,658.5 903.2,660.2 905.4,660.8 907.7,663.1 909.4,666.5 911.1,676.1 912.8,685.2 914.5,688.6 916.2,684.1 917.9,681.8 920.0,680.6 921.6,677.7 923.3,676.5 925.5,678.8 927.8,681.1 930.1,683.3 931.8,686.8 932.9,693.6 934.1,703.8 935.2,715.1 936.3,729.7 938.0,746.8 939.7,761.5 941.8,771.7 943.7,762.6 945.4,753.6 947.7,749.0 949.9,744.5 952.2,735.4 954.5,726.3 956.2,721.2 957.9,720.6 960.2,721.8 962.4,719.5 964.1,717.8 965.8,720.1 968.1,718.4 970.4,719.5 972.6,721.8 974.9,724.1 977.2,726.3 979.5,728.0 981.7,728.6 984.0,725.2 985.7,719.5 987.4,716.1 989.1,720.6 990.8,727.5 992.5,733.1 994.2,737.7 995.9,741.1 997.6,744.5 999.3,747.9 1001.0,752.4 1002.7,760.4 1004.2,769.5 1005.2,774.6 1006.5,762.6 1007.6,753.6 1009.5,750.2 1011.2,751.3 1012.9,754.7 1014.6,760.4 1016.3,753.6 1018.0,747.9 1019.8,741.1 1020.9,738.8 1022.6,743.9 1024.3,741.1 1026.0,737.1 1028.3,734.8 1030.5,733.7 1032.2,732.6 1033.9,728.0 1035.6,731.4 1037.3,732.0 1039.0,729.7 1040.0,730.3 1041.6,733.1 1044.4,732.0 1046.1,730.3 1047.8,732.0 1050.1,731.4 1051.6,725.2 1053.1,719.5 1055.0,716.1 1056.5,712.7 1058.4,707.0 1059.7,700.2 1061.4,693.4 1063.1,690.8 1065.4,681.7 1067.7,677.2 1069.4,672.6 1071.1,668.1 1072.4,673.8 1073.9,681.7 1075.6,686.3 1077.9,690.8 1080.2,687.4 1081.9,679.5 1083.6,670.4 1085.3,661.3 1087.0,656.8 1088.7,657.9 1090.4,661.3 1092.1,655.6 1093.8,653.3 1095.5,649.9 1097.2,645.4 1098.3,637.5 1099.5,628.4 1101.2,626.1 1102.9,629.5 1104.0,631.2 1105.7,626.1 1107.4,622.7 1109.1,621.0 1110.8,619.3 1112.5,617.0 1113.6,611.4 1114.8,604.5 1115.3,595.8 1117.0,586.7 1118.8,582.2 1119.9,573.1 1121.0,562.9 1123.3,561.8 1125.0,562.9 1126.1,552.7 1127.3,544.7 1129.0,539.1 1130.7,542.5 1131.2,548.1" fill="none" stroke="#4ea72e" stroke-width="4.1" stroke-linejoin="round" stroke-linecap="round"/>
<polyline points="774.1,609.9 775.8,607.7 778.0,603.7 779.8,605.4 781.5,599.7 783.2,596.3 784.9,595.8 786.8,599.5 789.1,601.8 791.4,606.3 793.6,608.6 794.8,615.4 795.7,626.8 796.5,640.4 798.2,634.7 799.9,631.9 801.0,626.8 802.7,623.3 805.0,619.9 806.7,613.1 807.8,610.9 809.3,617.7 810.6,619.9 812.3,616.0 814.1,621.1 815.8,617.7 817.5,616.5 819.2,615.4 820.9,616.5 822.0,623.3 823.7,629.0 824.8,638.1 826.5,647.2 828.2,652.9 829.4,654.0 831.1,644.9 832.2,635.8 833.9,632.4 835.6,637.0 836.8,626.8 838.5,619.9 840.2,615.4 841.9,617.7 843.6,623.3 845.8,624.5 847.5,621.1 849.2,619.9 850.4,630.2 852.1,623.3 853.8,627.9 855.5,631.3 857.8,627.9 859.5,629.0 861.7,632.4 863.4,638.1 865.1,631.3 867.4,630.2 869.1,631.9 870.8,629.0 873.1,629.6 874.8,628.5 876.3,627.3 877.4,635.8 878.5,649.5 879.7,661.9 881.0,658.5 882.2,649.5 883.9,645.5 886.1,647.2 887.8,649.5 889.5,656.3 891.2,657.4 893.5,654.0 895.2,657.4 896.9,656.3 898.6,652.9 900.9,651.2 903.2,653.4 905.4,654.0 907.7,655.1 910.0,656.3 911.7,658.5 912.2,666.5 913.4,678.4 914.5,681.8 916.2,672.7 917.9,670.4 918.7,675.4 920.4,670.9 922.1,666.9 924.4,669.2 927.2,670.9 929.5,673.7 932.3,673.1 933.5,681.1 935.2,692.4 936.3,703.8 937.5,718.5 939.2,741.1 940.9,758.1 942.6,768.3 944.3,758.1 945.4,746.8 947.7,741.1 949.9,737.7 951.6,728.6 953.3,719.5 954.5,716.1 956.2,714.4 957.9,712.1 959.6,712.7 961.3,710.4 962.4,707.0 964.1,704.2 965.8,707.0 968.1,704.8 969.8,707.0 971.5,710.4 973.8,712.7 975.5,715.5 977.8,717.2 980.0,718.4 982.3,718.9 984.0,716.1 985.1,709.3 986.8,707.0 989.1,709.3 990.8,715.0 992.5,720.6 994.2,726.3 995.9,730.9 997.6,735.4 998.8,736.5 999.9,741.1 1001.6,746.8 1003.3,753.6 1004.4,762.6 1005.3,768.3 1006.1,758.1 1007.3,749.0 1009.5,746.8 1011.2,747.9 1012.9,751.3 1014.6,757.0 1016.3,750.2 1018.0,744.5 1019.8,737.7 1020.9,735.4 1022.6,741.1 1024.3,737.7 1026.0,734.3 1028.3,732.0 1030.5,730.9 1032.2,729.7 1033.9,724.6 1035.6,728.6 1037.3,729.2 1039.0,726.3 1040.0,727.5 1042.7,728.6 1044.4,728.0 1046.1,726.3 1047.8,728.6 1050.1,727.5 1051.2,721.8 1052.9,716.1 1054.6,712.7 1056.3,709.3 1058.0,703.6 1059.2,695.7 1059.7,688.5 1062.0,687.4 1063.7,679.5 1064.8,673.8 1066.5,671.5 1068.2,663.6 1069.9,656.8 1071.6,656.2 1072.8,665.8 1073.9,674.9 1075.6,680.6 1077.3,682.3 1079.0,679.5 1080.7,672.6 1081.9,663.6 1083.0,655.6 1084.7,651.1 1085.8,645.4 1087.2,641.4 1088.7,647.7 1089.8,652.2 1090.9,644.3 1092.6,645.4 1093.8,646.5 1094.9,637.5 1096.0,625.0 1097.2,614.8 1098.9,612.5 1100.6,610.8 1102.3,613.6 1104.0,612.5 1105.1,606.8 1106.8,602.3 1107.4,599.2 1110.2,596.9 1112.5,593.5 1113.6,586.7 1114.8,575.4 1115.9,564.0 1117.0,560.6 1118.8,561.8 1119.9,552.7 1121.0,544.7 1122.7,544.2 1124.4,547.0 1126.1,547.6 1126.7,533.4 1127.8,522.0 1129.0,518.1 1130.1,523.2 1130.7,528.8 1131.8,529.4 1131.8,539.1" fill="none" stroke="#0e3b55" stroke-width="4.1" stroke-linejoin="round" stroke-linecap="round"/>
</g>
<g id="legend">
<rect x="752" y="107" width="373.4" height="129.6" fill="#ffffff" stroke="#000" stroke-width="2"/>
<g fill="none" stroke-width="4.2" stroke-linecap="round">
<line x1="767.3" y1="140.2" x2="806.4" y2="140.2" stroke="#1d6088"/>
<line x1="892.4" y1="140.2" x2="931.5" y2="140.2" stroke="#4ea72e"/>
<line x1="1016.8" y1="140.2" x2="1055.7" y2="140.2" stroke="#199fd6"/>
<line x1="767.3" y1="204.9" x2="806.4" y2="204.9" stroke="#4ea72e"/>
<line x1="892.4" y1="204.9" x2="931.5" y2="204.9" stroke="#0e3b55"/>
</g>
<g font-size="22.5" font-weight="bold" fill="#000" lengthAdjust="spacingAndGlyphs">
<text x="812.5" y="146.8" textLength="39.3" lengthAdjust="spacingAndGlyphs">9-yr</text>
<text x="937.3" y="146.8" textLength="49.2" lengthAdjust="spacingAndGlyphs">10-yr</text>
<text x="1061.1" y="146.8" textLength="49.2" lengthAdjust="spacingAndGlyphs">20-yr</text>
<text x="812.5" y="211.4" textLength="49.5" lengthAdjust="spacingAndGlyphs">30-yr</text>
<text x="937.3" y="211.4" textLength="49.2" lengthAdjust="spacingAndGlyphs">40-yr</text>
</g>
<rect x="756.2" y="247" width="290.6" height="62.8" fill="#9a9a9a" opacity="0.3"/>
<rect x="755.2" y="246" width="290.6" height="62.6" fill="#dbdbdb" stroke="#000" stroke-width="1.8"/>
<g font-size="14.6" font-weight="bold" fill="#000" text-anchor="middle">
<text x="901" y="271.2" textLength="105.5" lengthAdjust="spacingAndGlyphs">Sean Corrigan</text>
<text x="900.8" y="289.6" textLength="265" lengthAdjust="spacingAndGlyphs">Cantillon Consulting @CantillonCH</text>
</g>
<g id="logo">
<rect x="1051.4" y="246.2" width="70.6" height="62" fill="#fdfeff" stroke="#1d5a9c" stroke-width="1.6"/>
<rect x="1060.8" y="254.8" width="51.4" height="44" fill="#1a5ba0"/>
<g stroke="#6fa6de" stroke-width="0.8" fill="none" opacity="0.85">
<rect x="1069.6" y="262" width="33.8" height="29.6"/>
<line x1="1060.8" y1="254.8" x2="1069.6" y2="262"/>
<line x1="1112.2" y1="254.8" x2="1103.4" y2="262"/>
<line x1="1060.8" y1="298.8" x2="1069.6" y2="291.6"/>
<line x1="1112.2" y1="298.8" x2="1103.4" y2="291.6"/>
<line x1="1086.3" y1="254.8" x2="1086.3" y2="298.8"/>
<line x1="1060.8" y1="276.8" x2="1112.2" y2="276.8"/>
<circle cx="1086.6" cy="276.6" r="16.2"/>
</g>
<circle cx="1087.6" cy="276.8" r="11.5" fill="#1a5ba0"/>
<text x="1084.4" y="289.2" font-size="37" fill="#ffffff" text-anchor="middle">C</text>
<rect x="1063.2" y="256.2" width="15" height="13.2" fill="#e02b27"/>
<rect x="1066" y="261.3" width="9.4" height="3" fill="#fff"/>
<rect x="1069.2" y="258.1" width="3" height="9.4" fill="#fff"/>
<text x="1086.4" y="253.4" font-size="6.4" font-weight="bold" fill="#2b4a6b" text-anchor="middle" textLength="46.5" lengthAdjust="spacingAndGlyphs">CANTILLON</text>
<text x="1086.6" y="305.2" font-size="6.2" font-weight="bold" fill="#2b4a6b" text-anchor="middle" textLength="49.5" lengthAdjust="spacingAndGlyphs">CONSULTING</text>
</g>
</g>
</svg>
</body></html>
